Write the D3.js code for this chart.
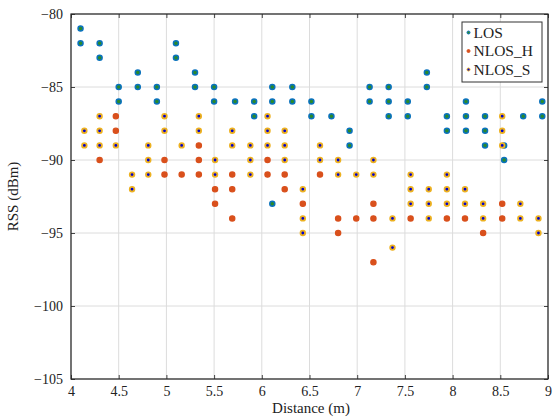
<!DOCTYPE html>
<html><head><meta charset="utf-8">
<script src="https://cdn.jsdelivr.net/npm/d3@7"></script>
<style>body{margin:0;background:#fff}svg{display:block}</style>
</head><body><svg id="c" width="554" height="419"></svg>
<script>
const xTicks = [4,4.5,5,5.5,6,6.5,7,7.5,8,8.5,9];
const yTicks = [-105,-100,-95,-90,-85,-80];
const seriesNames = ["LOS","NLOS_H","NLOS_S"];

const losDist = [4.1,4.1,4.3,4.3,4.5,4.5,4.7,4.7,4.9,4.9,5.1,5.1,5.3,5.3,5.5,5.5,5.72,5.92,5.92,6.11,6.11,6.11,6.32,6.32,6.52,6.52,6.73,6.92,6.92,7.13,7.13,7.33,7.33,7.33,7.53,7.53,7.73,7.73,7.94,7.94,8.14,8.14,8.14,8.34,8.34,8.34,8.54,8.54,8.74,8.94,8.94];
const losRss  = [-81,-82,-82,-83,-85,-86,-84,-85,-85,-86,-82,-83,-84,-85,-85,-86,-86,-86,-87,-85,-86,-93,-85,-86,-86,-87,-87,-88,-89,-85,-86,-85,-86,-87,-86,-87,-84,-85,-87,-88,-86,-87,-88,-87,-88,-89,-89,-90,-87,-86,-87];

const nlosHDist = [4.3,4.47,4.47,4.98,4.98,5.16,5.34,5.34,5.34,5.51,5.51,5.69,5.69,5.69,6.06,6.06,6.24,6.24,6.43,6.61,6.80,6.80,6.99,7.17,7.17,7.17,7.56,7.94,8.13,8.32,8.52,8.52];
const nlosHRss  = [-90,-87,-88,-90,-91,-91,-89,-90,-91,-92,-93,-91,-92,-94,-90,-91,-91,-92,-93,-91,-94,-95,-94,-93,-94,-97,-94,-94,-94,-95,-93,-94];

const nlosSDist = [4.14,4.14,4.3,4.3,4.3,4.47,4.64,4.64,4.81,4.81,4.81,4.98,4.98,5.16,5.34,5.34,5.51,5.51,5.69,5.69,5.88,5.88,5.88,6.06,6.06,6.06,6.24,6.24,6.24,6.43,6.43,6.43,6.61,6.61,6.80,6.80,6.99,7.17,7.17,7.37,7.37,7.56,7.56,7.56,7.75,7.75,7.75,7.94,7.94,7.94,8.13,8.13,8.32,8.32,8.52,8.52,8.52,8.71,8.71,8.90,8.90];
const nlosSRss  = [-88,-89,-87,-88,-89,-89,-91,-92,-89,-90,-91,-87,-88,-89,-87,-88,-90,-91,-88,-89,-89,-90,-91,-87,-88,-89,-88,-89,-90,-92,-94,-95,-89,-90,-90,-91,-91,-90,-91,-94,-96,-91,-92,-93,-92,-93,-94,-91,-92,-93,-92,-93,-93,-94,-87,-88,-89,-93,-94,-94,-95];

const styles = {
  LOS:   {fill:"#2a8a2a", stroke:"#0a72bd", r:2.5, sw:1.5},
  NLOS_H:{fill:"#d9501c", stroke:"#d9501c", r:2.6, sw:1.3},
  NLOS_S:{fill:"#0000d0", stroke:"#edb120", r:2.3, sw:1.8}
};
const FONT = "'Liberation Serif','DejaVu Serif',serif";

const svg = d3.select("#c");
const L=71, R=548, T=14, B=379;
const x = d3.scaleLinear().domain([4,9]).range([L,R]);
const y = d3.scaleLinear().domain([-105,-80]).range([B,T]);

// grid
const g = svg.append("g");
g.selectAll("line.gx").data(xTicks).join("line")
  .attr("x1",d=>x(d)).attr("x2",d=>x(d)).attr("y1",T).attr("y2",B)
  .attr("stroke","#dcdcdc").attr("stroke-width",1);
g.selectAll("line.gy").data(yTicks).join("line")
  .attr("y1",d=>y(d)).attr("y2",d=>y(d)).attr("x1",L).attr("x2",R)
  .attr("stroke","#dcdcdc").attr("stroke-width",1);

const fmt = d => (d<0? "\u2212"+Math.abs(d) : String(d));

// axes
const xa = svg.append("g").attr("transform",`translate(0,${B})`)
  .call(d3.axisBottom(x).tickValues(xTicks).tickFormat(d=>String(d)).tickSizeInner(-4).tickSizeOuter(0).tickPadding(7));
const xt = svg.append("g").attr("transform",`translate(0,${T})`)
  .call(d3.axisTop(x).tickValues(xTicks).tickFormat("").tickSizeInner(-4).tickSizeOuter(0));
const ya = svg.append("g").attr("transform",`translate(${L},0)`)
  .call(d3.axisLeft(y).tickValues(yTicks).tickFormat(fmt).tickSizeInner(-4).tickSizeOuter(0).tickPadding(8));
const yr = svg.append("g").attr("transform",`translate(${R},0)`)
  .call(d3.axisRight(y).tickValues(yTicks).tickFormat("").tickSizeInner(-4).tickSizeOuter(0));
[xa,xt,ya,yr].forEach(a=>{a.select(".domain").remove();a.attr("font-family",FONT);a.selectAll("line").attr("stroke","#444");
  a.selectAll("text").attr("font-size",14).attr("fill","#222").attr("font-family",FONT);});

svg.append("rect").attr("x",L).attr("y",T).attr("width",R-L).attr("height",B-T)
  .attr("fill","none").attr("stroke","#222").attr("stroke-width",1.2);

// points
function draw(name, xs, ys){
  const s = styles[name];
  const data = xs.map((d,i)=>[d,ys[i]]);
  svg.append("g").selectAll("circle").data(data).join("circle")
    .attr("cx",d=>x(d[0])).attr("cy",d=>y(d[1])).attr("r",s.r)
    .attr("fill",s.fill).attr("stroke",s.stroke).attr("stroke-width",s.sw);
}
draw("LOS",losDist,losRss);
draw("NLOS_H",nlosHDist,nlosHRss);
draw("NLOS_S",nlosSDist,nlosSRss);

// labels
svg.append("text").attr("x",311).attr("y",413).attr("text-anchor","middle")
  .attr("font-size",15).attr("font-family",FONT).attr("fill","#222").text("Distance (m)");
svg.append("text").attr("transform",`translate(18,${(T+B)/2}) rotate(-90)`).attr("text-anchor","middle")
  .attr("font-size",15).attr("font-family",FONT).attr("fill","#222").text("RSS (dBm)");

// legend
const lg = svg.append("g");
lg.append("rect").attr("x",462).attr("y",22).attr("width",80).attr("height",60)
  .attr("fill","#fff").attr("stroke","#333").attr("stroke-width",1);
seriesNames.forEach((n,i)=>{
  const s = styles[n], cy = 32.5 + i*18.5;
  lg.append("circle").attr("cx",468.5).attr("cy",cy).attr("r",1.5)
    .attr("fill",s.fill).attr("stroke",s.stroke).attr("stroke-width",1);
  lg.append("text").attr("x",473.5).attr("y",cy+5).attr("font-size",15.5).attr("font-family",FONT).attr("fill","#222").text(n);
});
</script></body></html>
